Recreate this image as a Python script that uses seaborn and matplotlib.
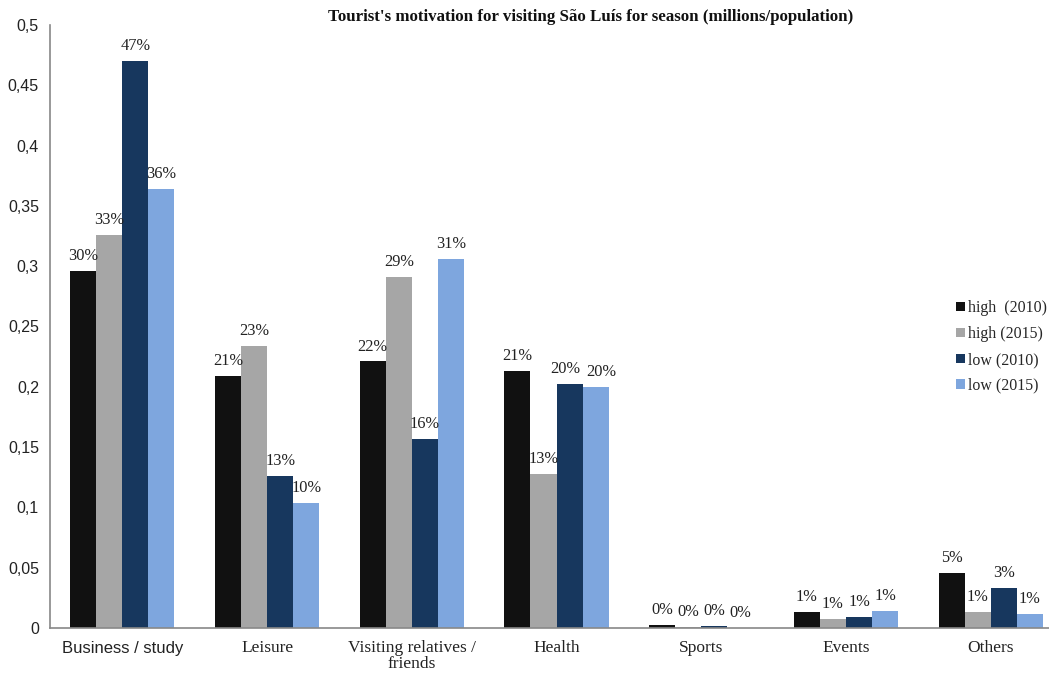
import matplotlib
matplotlib.use("Agg")
import matplotlib.pyplot as plt
import seaborn as sns
import pandas as pd

categories = ["Business / study", "Leisure", "Visiting relatives /\nfriends",
              "Health", "Sports", "Events", "Others"]
series = ["high  (2010)", "high (2015)", "low (2010)", "low (2015)"]
high_2010 = [0.296, 0.209, 0.221, 0.213, 0.0025, 0.0133, 0.046]
high_2015 = [0.326, 0.234, 0.291, 0.128, 0.0006, 0.0075, 0.013]
low_2010 = [0.470, 0.126, 0.157, 0.202, 0.0015, 0.0092, 0.033]
low_2015 = [0.364, 0.104, 0.306, 0.200, 0.0003, 0.0141, 0.0116]
yticks = [0, 0.05, 0.1, 0.15, 0.2, 0.25, 0.3, 0.35, 0.4, 0.45, 0.5]
ytick_labels = ["0", "0,05", "0,1", "0,15", "0,2", "0,25", "0,3", "0,35", "0,4", "0,45", "0,5"]
colors = ["#111111", "#a6a6a6", "#17375e", "#7ea6de"]

rows = []
for name, vals in zip(series, [high_2010, high_2015, low_2010, low_2015]):
    for cat, v in zip(categories, vals):
        rows.append({"category": cat, "series": name, "value": v})
df = pd.DataFrame(rows)

sns.set_style("white")
plt.rcParams["font.family"] = ["Liberation Serif", "DejaVu Serif"]

fig = plt.figure(figsize=(10.49, 6.74), dpi=100)
ax = fig.add_axes([50 / 1049, 1 - 628 / 674, 1000 / 1049, (628 - 25) / 674])

sns.barplot(data=df, x="category", y="value", hue="series", palette=colors,
            width=0.72, saturation=1, linewidth=0, ax=ax, legend=True)

for s_idx, container in enumerate(ax.containers):
    labels = [f"{round(b.get_height() * 100)}%" for b in container]
    anns = ax.bar_label(container, labels=labels, padding=5, fontsize=11.8, color="#222222")
    # keep the two close Health labels from touching
    if s_idx == 2:
        anns[3].xyann = (-3, 5)
    if s_idx == 3:
        anns[3].xyann = (4, 5)

ax.set_ylim(0, 0.5)
ax.set_xlim(-0.5, 6.41)
ax.set_yticks(yticks)
ax.set_yticklabels(ytick_labels, family="Liberation Sans", fontsize=11.5, color="#222222")
ax.tick_params(axis="y", length=0, pad=8)
ax.tick_params(axis="x", length=0, pad=9)
ticklabels = ax.get_xticklabels()
for t in ticklabels:
    t.set_fontsize(12.5)
    t.set_color("#222222")
    t.set_linespacing(0.95)
ticklabels[0].set_family("Liberation Sans")
ticklabels[0].set_fontsize(12)
ax.set_xlabel("")
ax.set_ylabel("")

for side in ["top", "right"]:
    ax.spines[side].set_visible(False)
for side in ["left", "bottom"]:
    ax.spines[side].set_color("#888888")
    ax.spines[side].set_linewidth(1.2)

fig.text(591 / 1049, 1 - 17 / 674,
         "Tourist's motivation for visiting São Luís for season (millions/population)",
         ha="center", va="center", fontsize=12.2, fontweight="bold", color="#111111")

leg = ax.legend(loc="center left", bbox_to_anchor=(950 / 1049, 1 - 347 / 674),
                bbox_transform=fig.transFigure, frameon=False, fontsize=11.4,
                handlelength=0.55, handleheight=0.55, handletextpad=0.2,
                labelspacing=0.62, borderaxespad=0)

fig.savefig("out.png", dpi=100)
